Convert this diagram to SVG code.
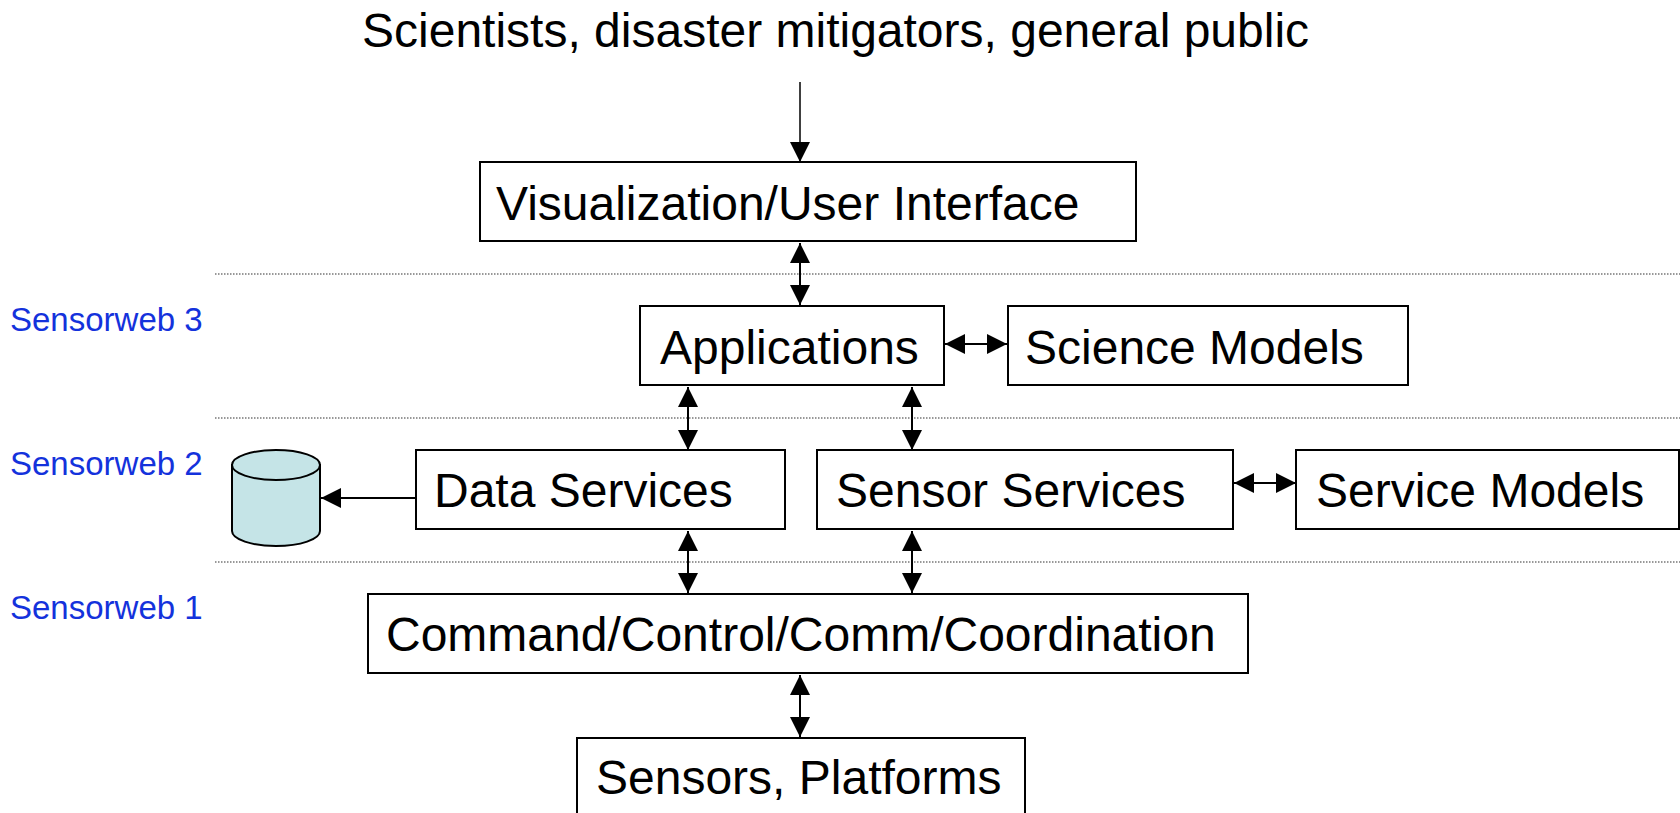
<svg xmlns="http://www.w3.org/2000/svg" width="1680" height="813" viewBox="0 0 1680 813">
<style>
.box{fill:#fff;stroke:#000;stroke-width:2}
.lbl{font-family:"Liberation Sans",Arial,sans-serif;font-size:48px;fill:#000}
.lay{font-family:"Liberation Sans",Arial,sans-serif;font-size:33px;fill:#1432dc}
.dot{stroke:#333;stroke-width:1.2;stroke-dasharray:1.5 1.5;fill:none}
.con{stroke:#000;stroke-width:2;fill:none}
.one{marker-end:url(#ah)}
.two{marker-start:url(#ah);marker-end:url(#ah)}
</style>
<defs>
<marker id="ah" markerUnits="userSpaceOnUse" markerWidth="20" markerHeight="20" refX="20" refY="10" orient="auto-start-reverse" viewBox="0 0 20 20">
<path d="M0,0 L20,10 L0,20 Z" fill="#000"/>
</marker>
</defs>
<rect width="1680" height="813" fill="#fff"/>
<g id="title"><text class="lbl" x="362" y="47">Scientists, disaster mitigators, general public</text></g>
<g id="layers">
<line class="dot" x1="215" y1="274" x2="1680" y2="274"/>
<line class="dot" x1="215" y1="418" x2="1680" y2="418"/>
<line class="dot" x1="215" y1="562" x2="1680" y2="562"/>
<text class="lay" x="10" y="331">Sensorweb 3</text>
<text class="lay" x="10" y="475">Sensorweb 2</text>
<text class="lay" x="10" y="619">Sensorweb 1</text>
</g>
<g id="vis"><rect class="box" x="480" y="162" width="656" height="79"/><text class="lbl" x="496" y="220">Visualization/User Interface</text></g>
<g id="apps"><rect class="box" x="640" y="306" width="304" height="79"/><text class="lbl" x="660" y="364">Applications</text></g>
<g id="science"><rect class="box" x="1008" y="306" width="400" height="79"/><text class="lbl" x="1025" y="364">Science Models</text></g>
<g id="data"><rect class="box" x="416" y="450" width="369" height="79"/><text class="lbl" x="434" y="507">Data Services</text></g>
<g id="sensorsvc"><rect class="box" x="817" y="450" width="416" height="79"/><text class="lbl" x="836" y="507">Sensor Services</text></g>
<g id="servicemodels"><rect class="box" x="1296" y="450" width="383" height="79"/><text class="lbl" x="1316" y="507">Service Models</text></g>
<g id="command"><rect class="box" x="368" y="594" width="880" height="79"/><text class="lbl" x="386" y="651">Command/Control/Comm/Coordination</text></g>
<g id="sensors"><rect class="box" x="577" y="738" width="448" height="79"/><text class="lbl" x="596" y="794">Sensors, Platforms</text></g>
<g id="db">
<path d="M232,465 L232,531 A44,15 0 0 0 320,531 L320,465 Z" fill="#c5e4e7" stroke="#000" stroke-width="2"/>
<ellipse cx="276" cy="465" rx="44" ry="15" fill="#c5e4e7" stroke="#000" stroke-width="2"/>
</g>
<g id="connectors">
<line class="con one" x1="800" y1="82" x2="800" y2="162" style="stroke-width:1.5"/>
<line class="con two" x1="800" y1="243" x2="800" y2="305"/>
<line class="con two" x1="945" y1="344" x2="1007" y2="344"/>
<line class="con two" x1="688" y1="387" x2="688" y2="450"/>
<line class="con two" x1="912" y1="387" x2="912" y2="450"/>
<line class="con two" x1="1234" y1="483" x2="1296" y2="483"/>
<line class="con one" x1="416" y1="498" x2="321" y2="498"/>
<line class="con two" x1="688" y1="531" x2="688" y2="593"/>
<line class="con two" x1="912" y1="531" x2="912" y2="593"/>
<line class="con two" x1="800" y1="675" x2="800" y2="737"/>
</g>
</svg>
